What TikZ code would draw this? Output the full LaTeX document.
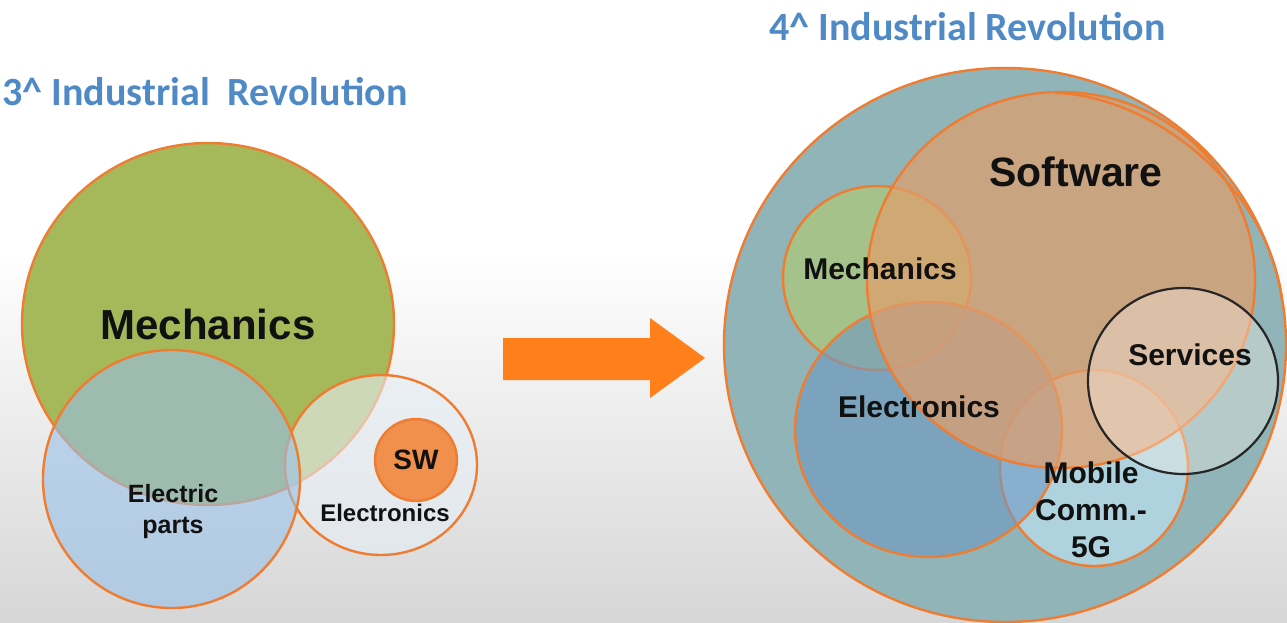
\documentclass[tikz,border=0pt]{standalone}
\usepackage{fontspec}
\setmainfont{Liberation Sans}
\newfontfamily\titlefont{Carlito}
\definecolor{orn}{HTML}{EE7D31}
\definecolor{arrowc}{HTML}{FF7F1A}
\definecolor{titleblue}{HTML}{4F8AC6}
\definecolor{bggray}{HTML}{D6D6D6}
\definecolor{mechgreen}{HTML}{A5B85A}
\definecolor{partsblue}{HTML}{98C0E8}
\definecolor{elecwhite}{HTML}{E6EEF6}
\definecolor{swfill}{HTML}{F0904C}
\definecolor{bigteal}{HTML}{90B4B8}
\definecolor{mech2}{HTML}{A5C28A}
\definecolor{elec2}{HTML}{6F98C2}
\definecolor{mobfill}{HTML}{AFD3DE}
\definecolor{softfill}{HTML}{E09E6C}
\definecolor{servfill}{HTML}{FFF4EC}
\definecolor{txt}{HTML}{111111}
\tikzset{
  blob/.style={draw=orn, line width=2.4pt},
  ttl/.style={anchor=west, text=titleblue, font=\titlefont\bfseries\fontsize{40}{46}\selectfont},
  lbl/.style n args={2}{text=txt, align=center, font=\bfseries\fontsize{#1}{#2}\selectfont},
}
\begin{document}
\begin{tikzpicture}[x=1pt,y=-1pt]
\useasboundingbox (0,0) rectangle (1287,623);
\fill[white] (0,0) rectangle (1287,623);
\shade[top color=white,bottom color=bggray] (0,250) rectangle (1287,623);

% ---------- left: 3^ industrial revolution ----------
\node[ttl] (t3) at (-1,92) {3\textasciicircum{} Industrial~~Revolution};

\filldraw[blob, fill=mechgreen] (208,324) circle[x radius=186pt, y radius=181pt];
\filldraw[blob, fill=elecwhite, fill opacity=0.6] (381,465) circle[x radius=96pt, y radius=90pt];
\filldraw[blob, fill=partsblue, fill opacity=0.6] (171.5,479) circle[x radius=128.5pt, y radius=129pt];
\filldraw[blob, fill=swfill] (416,460) circle[radius=41pt];

\node[lbl={42}{50}] (mechL) at (208,324) {Mechanics};
\node[lbl={25}{31}] (partsL) at (173,512) {Electric\\parts};
\node[lbl={24}{30}] (elecL) at (385,513) {Electronics};
\node[lbl={28}{34}] (swL) at (416,460) {SW};

% ---------- arrow ----------
\fill[arrowc] (503,338) -- (650,338) -- (650,318) -- (705,358) -- (650,398) -- (650,380) -- (503,380) -- cycle;

% ---------- right: 4^ industrial revolution ----------
\node[ttl] (t4) at (766,27) {4\textasciicircum{} Industrial Revolution};

\filldraw[blob, fill=bigteal] (1005,345) circle[x radius=281pt, y radius=277pt];
\filldraw[blob, fill=mobfill] (1094,468) circle[x radius=94pt, y radius=98pt];
\filldraw[blob, fill=mech2] (877,278) circle[x radius=94pt, y radius=92pt];
\filldraw[blob, fill=elec2, fill opacity=0.6] (928.5,429.5) circle[x radius=133.5pt, y radius=127.5pt];
\filldraw[blob, fill=softfill, fill opacity=0.72] (1061,280) circle[x radius=194pt, y radius=188pt];
\draw[blob] (1055,93) .. controls (1150,95) and (1268,185) .. (1282,300);
\filldraw[draw=black!85, line width=2.2pt, fill=servfill, fill opacity=0.35] (1183,381) circle[x radius=95pt, y radius=93pt];

\node[lbl={41}{48}] (softR) at (1076,172) {Software};
\node[lbl={30}{36}] (mechR) at (880,269) {Mechanics};
\node[lbl={30}{36}] (elecR) at (919,407) {Electronics};
\node[lbl={30}{36}] (servR) at (1190,355) {Services};
\node[lbl={30}{37}] (mobR) at (1091,510) {Mobile\\Comm.-\\5G};
\end{tikzpicture}
\end{document}
